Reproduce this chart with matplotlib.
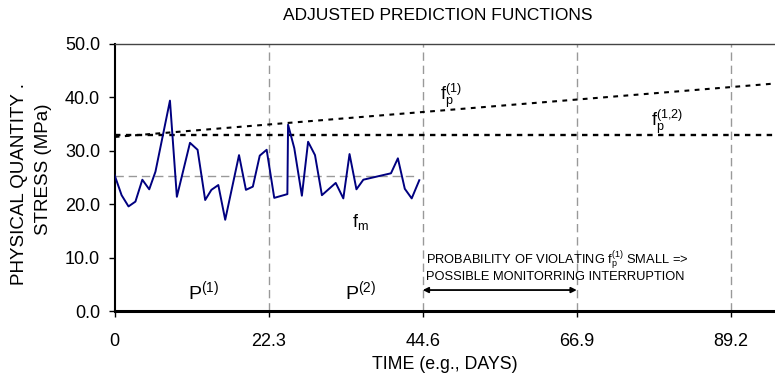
import matplotlib
matplotlib.use("Agg")
import matplotlib.pyplot as plt
from matplotlib.ticker import FixedLocator, FormatStrFormatter

plt.rcParams['font.family'] = ['Liberation Sans', 'DejaVu Sans']
plt.rcParams['mathtext.fontset'] = 'custom'
plt.rcParams['mathtext.rm'] = 'Liberation Sans'
plt.rcParams['mathtext.it'] = 'Liberation Sans'
plt.rcParams['mathtext.default'] = 'rm'

# measured stress f_m (days, MPa)
time_m = [0, 1.0, 2.0, 3.0, 4.0, 5.0, 5.9, 8.0, 9.0, 10.9, 12.0, 13.1, 14.0, 15.0,
          16.0, 18.0, 19.0, 20.0, 21.0, 22.0, 23.1, 25.0, 25.1, 26.0, 27.1, 28.0,
          29.0, 30.0, 32.0, 33.1, 34.0, 35.0, 36.0, 40.0, 41.0, 42.0, 43.0, 44.1]
stress_m = [25.4, 21.7, 19.6, 20.5, 24.6, 22.8, 26.1, 39.4, 21.4, 31.5, 30.2, 20.8, 22.7, 23.6,
            17.1, 29.2, 22.7, 23.3, 29.1, 30.2, 21.2, 21.9, 34.9, 30.5, 21.6, 31.7,
            29.2, 21.7, 24.0, 21.1, 29.4, 22.8, 24.6, 25.8, 28.6, 22.9, 21.1, 24.5]

# mean of the measurements
mean_x = [0, 43.5]
mean_y = [25.35, 25.35]

# prediction functions
fp1_x = [0, 95.6]
fp1_y = [32.6, 42.6]
fp12_x = [0, 95.6]
fp12_y = [33.0, 33.0]

period_bounds = [22.3, 44.6, 66.9, 89.2]
xtick_vals = [0, 22.3, 44.6, 66.9, 89.2]
xtick_labels = ['0', '22.3', '44.6', '66.9', '89.2']
ytick_vals = [0, 10, 20, 30, 40, 50]

fig = plt.figure(figsize=(7.75, 3.79), dpi=100)
ax = fig.add_axes([0.148, 0.179, 0.852, 0.705])

for xb in period_bounds:
    ax.plot([xb, xb], [0, 50], color='#999999', lw=1.0, ls=(0, (6, 3.5)), zorder=1)
ax.plot(mean_x, mean_y, color='#999999', lw=1.0, ls=(0, (6, 3.5)), zorder=1)

ax.plot(fp1_x, fp1_y, color='black', lw=1.5, ls=(0, (2.3, 2.6)), zorder=2)
ax.plot(fp12_x, fp12_y, color='black', lw=1.7, ls=(0, (2.3, 2.3)), zorder=2)
ax.plot(time_m, stress_m, color='#000080', lw=1.4, zorder=3)

ax.set_xlim(0, 95.6)
ax.set_ylim(0, 50)
ax.xaxis.set_major_locator(FixedLocator(xtick_vals))
ax.set_xticklabels(xtick_labels)
ax.yaxis.set_major_locator(FixedLocator(ytick_vals))
ax.yaxis.set_major_formatter(FormatStrFormatter('%.1f'))
ax.tick_params(axis='x', direction='out', length=4, width=1, pad=12, labelsize=13)
ax.tick_params(axis='y', direction='out', length=4.5, width=1, pad=6, labelsize=13)

ax.spines['left'].set_linewidth(1.5)
ax.spines['bottom'].set_linewidth(2.2)
ax.spines['top'].set_color('#444444')
ax.spines['top'].set_linewidth(1.0)
ax.spines['right'].set_visible(False)

ax.set_xlabel('TIME (e.g., DAYS)', fontsize=12.8, va='center')
ax.xaxis.set_label_coords(0.5, -0.198)

fig.text(20 / 775, 1 - 184 / 379, 'PHYSICAL QUANTITY .', rotation=90,
         ha='center', va='center', fontsize=13.5)
fig.text(43 / 775, 1 - 169 / 379, 'STRESS (MPa)', rotation=90,
         ha='center', va='center', fontsize=13.5)
fig.text(438 / 775, 1 - 15.5 / 379, 'ADJUSTED PREDICTION FUNCTIONS',
         ha='center', va='center', fontsize=12.5)

ax.text(47.1, 39.5, r'$\mathrm{f_p^{(1)}}$', fontsize=13, va='baseline')
ax.text(77.6, 34.7, r'$\mathrm{f_p^{(1{,}2)}}$', fontsize=13, va='baseline')
ax.text(34.4, 15.8, r'$\mathrm{f_m}$', fontsize=13, va='baseline')
ax.text(10.65, 2.27, r'P$^{(1)}$', fontsize=14, va='baseline')
ax.text(33.35, 2.27, r'P$^{(2)}$', fontsize=14, va='baseline')

ax.text(45.0, 8.95, r'PROBABILITY OF VIOLATING $\mathrm{f_p^{(1)}}$ SMALL =>',
        fontsize=9.3, va='baseline')
ax.text(45.0, 5.8, 'POSSIBLE MONITORRING INTERRUPTION', fontsize=9.3, va='baseline')
ax.annotate('', xy=(44.6, 3.95), xytext=(66.9, 3.95),
            arrowprops=dict(arrowstyle='<|-|>', color='black', lw=1.3,
                            mutation_scale=8, shrinkA=0, shrinkB=0))

fig.savefig('out.png', dpi=100)
